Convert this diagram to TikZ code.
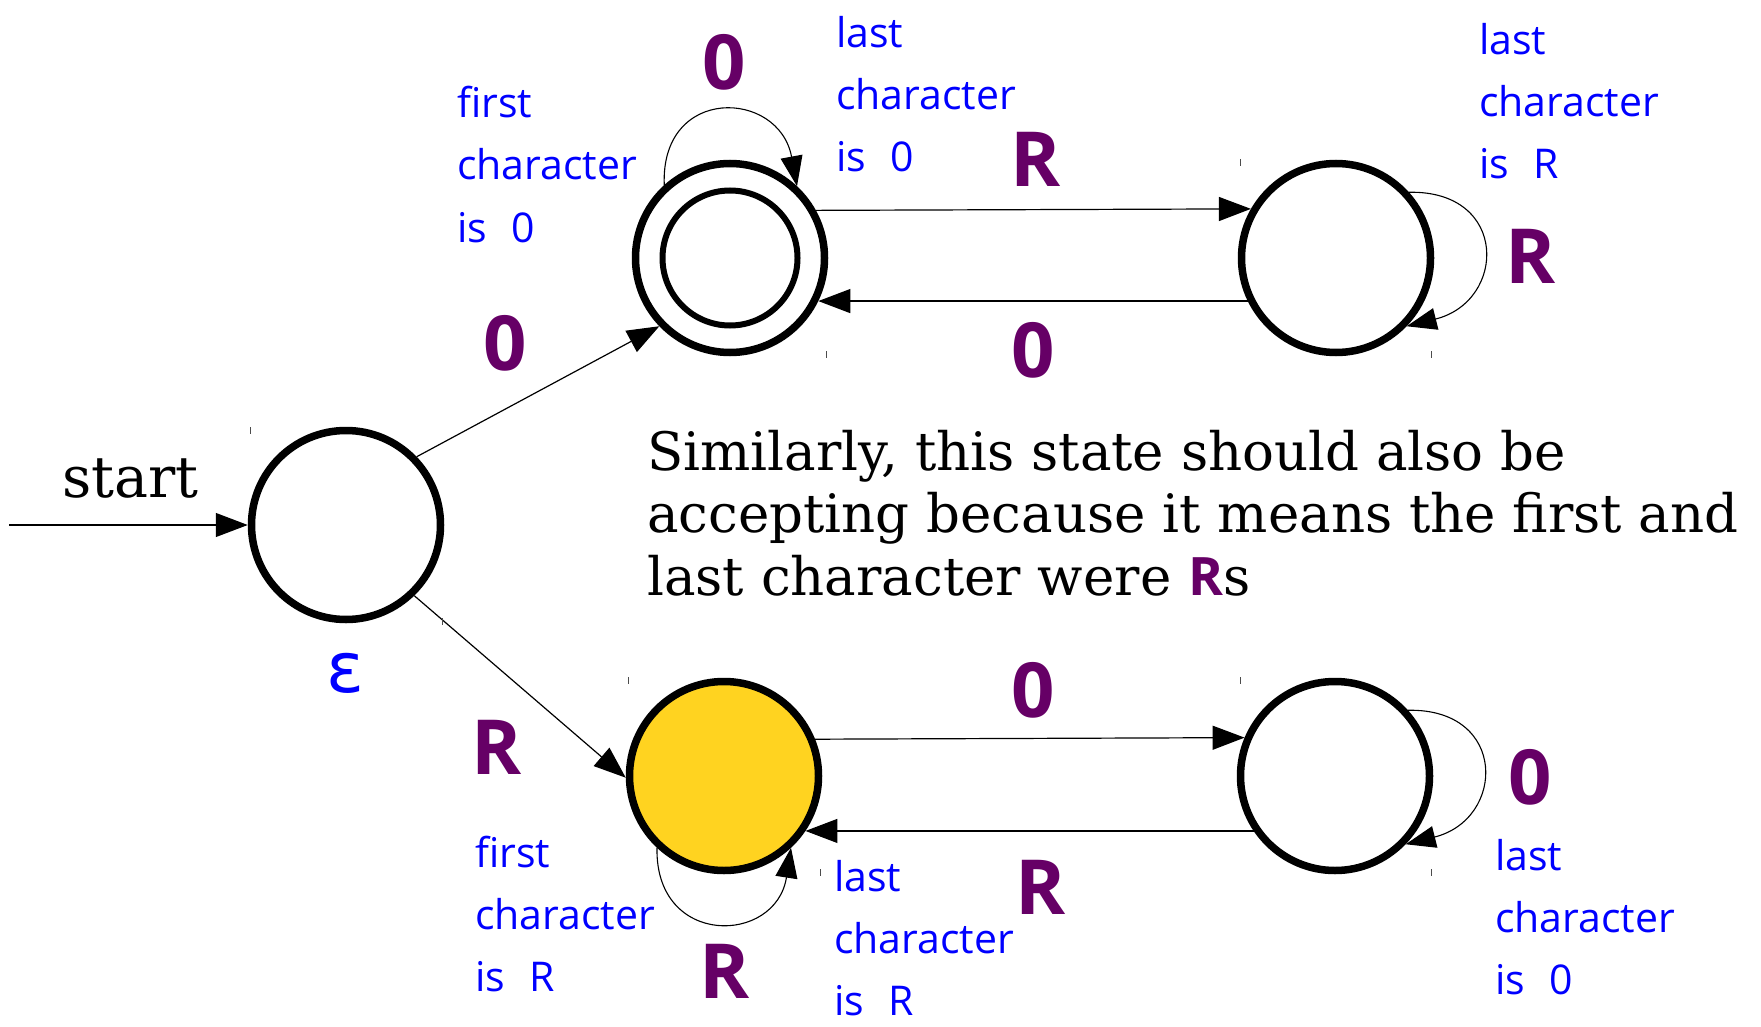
\documentclass[tikz,border=0pt]{standalone}
\usepackage{fontspec}
\setmainfont{DejaVu Serif}
\newfontfamily\handfont{Open Sans}
\newfontfamily\labfont{Open Sans}
\newfontfamily\epsfont{DejaVu Sans}
\usetikzlibrary{arrows.meta}
\definecolor{labc}{HTML}{660066}
\definecolor{handc}{HTML}{0000FF}
\definecolor{goldc}{HTML}{FFD320}
\newcommand\handblock[6]{%
  \node[hand] (#1a) at (#2,#3) {#4};
  \node[hand] (#1b) at (#2,#3+62) {#5};
  \node[hand] (#1c) at (#2,#3+124) {#6};}
\begin{document}
\begin{tikzpicture}[x=1pt,y=-1pt,
  state/.style={circle,draw,line width=7.5pt,minimum size=189pt,inner sep=0pt},
  tr/.style={line width=1.2pt,-{Triangle[length=32pt,width=24pt]}},
  lp/.style={line width=1.1pt,-{Triangle[length=30pt,width=22pt]}},
  lab/.style={font=\labfont\bfseries\fontsize{76}{80}\selectfont,text=labc,inner sep=0pt},
  hand/.style={font=\handfont\fontsize{41}{50}\selectfont,text=handc,inner sep=0pt,anchor=base west},
  para/.style={font=\fontsize{53}{63}\selectfont,inner sep=0pt,anchor=base west},
  tick/.style={line width=1pt,black!70}]
\useasboundingbox (0,0) rectangle (1761,1027);
% states
\node[state] (s) at (346,525) {};
\node[state] (a) at (730,258) {};
\draw[line width=6pt] (a.center) circle[radius=67.5];
\node[state] (b) at (1336,258) {};
\node[state,fill=goldc] (y) at (724,776) {};
\node[state] (c) at (1335,776) {};
% start
\coordinate (st) at (9,525);
\draw[tr] (st) -- (s.west);
\node[font=\fontsize{57}{60}\selectfont,anchor=base west,inner sep=0pt] (stl) at (62,497) {start};
% edges
\draw[tr] (s.44) -- (a.224);
\draw[tr] (s.314) -- (y.181);
\draw[tr] (a.29.3) -- (b.150.7);
\draw[tr] (b.206) -- (a.-26);
\draw[tr] (y.22.2) -- (c.157.8);
\draw[tr] (c.214) -- (y.-34);
% loops
\draw[lp] (a.132) .. controls +(-4,-100) and +(-18,-97) .. (a.47);
\draw[lp] (b.42) .. controls +(100,-2) and +(100,-25) .. (b.-44);
\draw[lp] (c.42) .. controls +(100,-2) and +(100,-25) .. (c.-44);
\draw[lp] (y.227) .. controls +(-2,100) and +(-15,97) .. (y.313);
% labels
\node[lab] (l1) at (724,62) {0};
\node[lab] (l2) at (1036,159) {R};
\node[lab] (l3) at (1531,256) {R};
\node[lab] (l4) at (1033,350) {0};
\node[lab] (l5) at (505,343) {0};
\node[lab] (l6) at (497,747) {R};
\node[lab] (l7) at (1033,690) {0};
\node[lab] (l8) at (1041,887) {R};
\node[lab] (l9) at (1530,777) {0};
\node[lab] (l10) at (725,971) {R};
\node[font=\epsfont\fontsize{70}{70}\selectfont,text=handc,inner sep=0pt] (eps) at (345,673) {ε};
% paragraph
\node[para] (p1) at (647,470) {Similarly, this state should also be};
\node[para] (p2) at (647,532) {accepting because it means the first and};
\node[para] (p3) at (647,595) {last character were {\labfont\bfseries\color{labc}R}s};
% hand notes
\handblock{ha}{457}{118}{first}{character}{is \hspace{14pt}0}
\handblock{hb}{836}{48}{last}{character}{is \hspace{14pt}0}
\handblock{hc}{1479}{55}{last}{character}{is \hspace{14pt}R}
\handblock{hd}{475}{867}{first}{character}{is \hspace{14pt}R}
\handblock{he}{834}{891}{last}{character}{is \hspace{14pt}R}
\handblock{hf}{1495}{870}{last}{character}{is \hspace{14pt}0}
% ticks
\draw[tick] (250,427) -- (250,434);
\draw[tick] (442,618) -- (442,625);
\draw[tick] (826,351) -- (826,358);
\draw[tick] (1240,159) -- (1240,166);
\draw[tick] (1431,351) -- (1431,358);
\draw[tick] (628,677) -- (628,684);
\draw[tick] (820,869) -- (820,876);
\draw[tick] (1240,677) -- (1240,684);
\draw[tick] (1431,869) -- (1431,876);
\end{tikzpicture}
\end{document}
